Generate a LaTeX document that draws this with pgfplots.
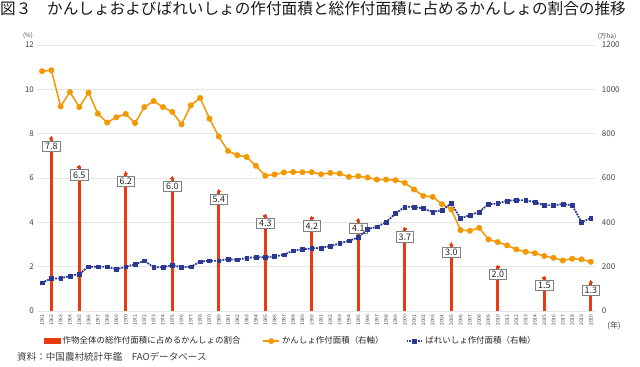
\documentclass[border=0pt]{standalone}
\usepackage{pgfplots}
\pgfplotsset{compat=1.18}
\usepackage{fontspec}
\setmainfont{Noto Sans CJK JP}
\definecolor{barred}{HTML}{EA3A12}
\definecolor{sorange}{HTML}{F39800}
\definecolor{pblue}{HTML}{2B3990}
\definecolor{gridgray}{HTML}{E6E6E6}
\definecolor{txtgray}{HTML}{444444}

\pgfplotstableread{
year share
1962 7.8
1965 6.5
1970 6.2
1975 6.0
1980 5.4
1985 4.3
1990 4.2
1995 4.1
2000 3.7
2005 3.0
2010 2.0
2015 1.5
2020 1.3
}\sharetable

\pgfplotstableread{
year sweet potato
1961 1082 128
1962 1086 147
1963 923 147
1964 988 158
1965 920 167
1966 985 200
1967 890 200
1968 850 200
1969 874 188
1970 889 200
1971 848 210
1972 920 227
1973 947 197
1974 920 197
1975 898 207
1976 842 197
1977 928 200
1978 961 222
1979 868 227
1980 787 227
1981 722 234
1982 703 231
1983 695 240
1984 655 242
1985 610 243
1986 616 246
1987 625 254
1988 627 272
1989 626 278
1990 626 282
1991 617 285
1992 623 293
1993 620 305
1994 605 317
1995 608 332
1996 602 369
1997 593 380
1998 593 401
1999 590 440
2000 578 470
2001 548 470
2002 519 462
2003 515 447
2004 482 455
2005 458 485
2006 365 418
2007 362 432
2008 375 447
2009 323 482
2010 311 485
2011 296 497
2012 278 500
2013 267 500
2014 261 491
2015 248 477
2016 240 477
2017 228 482
2018 236 477
2019 233 402
2020 222 418
}\areatable

\begin{document}
\begin{tikzpicture}[x=1bp,y=1bp]
\useasboundingbox (0,0) rectangle (640,366);
\node[anchor=west, inner sep=0pt, text=black!90, font=\fontsize{15.7}{16.5}\selectfont] at (0,357) {図３　かんしょおよびばれいしょの作付面積と総作付面積に占めるかんしょの割合の推移};

\begin{axis}[
  at={(37.4bp,55bp)}, anchor=south west, scale only axis,
  width=558bp, height=266bp,
  xmin=1960.5, xmax=2020.5, ymin=0, ymax=12,
  axis line style={draw=none},
  major tick length=0pt,
  ytick={0,2,...,12},
  ymajorgrids, grid style={gridgray, line width=0.8bp},
  xtick={1961,1962,1963,1964,1965,1966,1967,1968,1969,1970,1971,1972,1973,1974,1975,1976,1977,1978,1979,1980,1981,1982,1983,1984,1985,1986,1987,1988,1989,1990,1991,1992,1993,1994,1995,1996,1997,1998,1999,2000,2001,2002,2003,2004,2005,2006,2007,2008,2009,2010,2011,2012,2013,2014,2015,2016,2017,2018,2019,2020},
  xticklabel={\pgfmathparse{int(round(\tick))}\pgfmathresult},
  xticklabel style={rotate=90, anchor=east, font=\fontsize{5}{5}\selectfont, text=txtgray},
  yticklabel style={font=\fontsize{8}{8}\selectfont, text=txtgray},
  /pgf/number format/assume math mode=true,
  clip=false,
]
\addplot[ycomb, barred, line width=3.3bp, mark=*, mark size=1.6bp, mark options={barred, line width=0pt},
  point meta=y,
  nodes near coords={\pgfmathprintnumber[fixed,fixed zerofill,precision=1]{\pgfplotspointmeta}},
  every node near coord/.append style={anchor=north, yshift=-2.5bp, draw=black!50, line width=0.6bp, fill=white, text=black!85, inner xsep=2.5bp, inner ysep=1.8bp, font=\fontsize{9}{9}\selectfont}
] table[x=year, y=share] {\sharetable};
\end{axis}

\begin{axis}[
  at={(37.4bp,55bp)}, anchor=south west, scale only axis,
  width=558bp, height=266bp,
  xmin=1960.5, xmax=2020.5, ymin=0, ymax=1200,
  axis y line*=right, axis x line=none,
  axis line style={draw=none},
  major tick length=0pt,
  ytick={0,200,...,1200},
  yticklabel style={font=\fontsize{8}{8}\selectfont, text=txtgray, xshift=3bp},
  /pgf/number format/assume math mode=true,
  /pgf/number format/1000 sep={},
  legend style={at={(0.012,-0.113)}, anchor=west, draw=none, fill=none,
    legend columns=3, font=\fontsize{8.5}{9}\selectfont, text=black!85,
    /tikz/every even column/.append style={column sep=20bp},
    inner sep=0pt},
  legend image code/.code={\draw[mark repeat=2,mark phase=2,#1] plot coordinates {(0bp,0bp) (8bp,0bp) (16bp,0bp)};},
  clip=false,
]
\addlegendimage{legend image code/.code={\fill[barred] (0bp,-2.5bp) rectangle (16bp,3bp);}}
\addlegendentry{作物全体の総作付面積に占めるかんしょの割合}
\addplot[sorange, line width=1.5bp, mark=*, mark size=2.2bp, mark options={solid, fill=sorange, draw=sorange}] table[x=year, y=sweet] {\areatable};
\addlegendentry{かんしょ作付面積（右軸）}
\addplot[pblue, line width=1.8bp, densely dotted, mark=square*, mark size=1.9bp, mark options={solid, fill=pblue, draw=pblue, line width=0.4bp}] table[x=year, y=potato] {\areatable};
\addlegendentry{ばれいしょ作付面積（右軸）}
\end{axis}

\node[font=\fontsize{6}{6}\selectfont, text=txtgray] at (28,330) {(\%)};
\node[font=\fontsize{6.5}{6.5}\selectfont, text=txtgray] at (607,330) {(万ha)};
\node[font=\fontsize{8}{8}\selectfont, text=txtgray] at (614,40) {(年)};
\node[anchor=west, inner sep=0pt, font=\fontsize{9.6}{10}\selectfont, text=black!75] at (17,9) {資料：中国農村統計年鑑　FAOデータベース};
\end{tikzpicture}
\end{document}
